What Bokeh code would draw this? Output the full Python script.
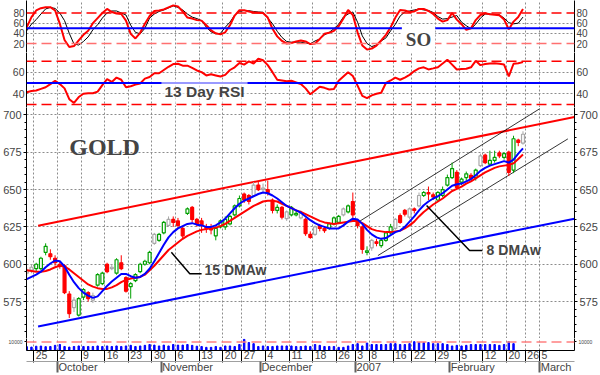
from bokeh.plotting import figure
from bokeh.models import Range1d, FixedTicker, LinearAxis, Label, Span, Grid
from bokeh.layouts import column
from bokeh.embed import file_html
from bokeh.resources import INLINE

SANS = "Liberation Sans"
SERIF = "Liberation Serif"

# trading-day index (0 = Mon 25 Sep 2006)
days = list(range(-2, 104))

opens = [594, 596, 597, 597, 608, 607, 604, 600, 599, 580,
         571, 566, 578, 581, 576, 586, 587, 600, 597, 594,
         601, 591, 585, 589, 595, 600, 601, 614, 616, 621,
         626, 630, 629, 624, 634, 638, 630, 629, 625, 624,
         619, 625, 625, 627, 633, 639, 647, 646, 646, 653,
         650, 650, 643, 636, 638, 630.5, 633, 633, 631, 630,
         620, 620, 626, 624, 624, 627, 628, 633, 635, 642,
         628, 625, 608, 611, 615, 612.5, 616, 621, 624, 632.5,
         636, 631.5, 637, 639, 646, 648, 646.5, 643, 646, 653,
         658, 661.5, 655, 658, 659.5, 658, 666, 673, 667, 669.5,
         674.5, 671.5, 675, 663, 683, 681]
highs = [598, 600, 601, 605, 614, 610, 606, 602, 600, 582,
         578, 578, 584, 582, 581, 594, 595, 601, 600, 604,
         606, 592, 588, 594, 601, 603, 609, 621, 621, 629,
         632, 632, 631, 625, 638, 639, 631, 631, 627, 627,
         625, 630, 632, 633, 640, 646, 648, 647, 655, 655,
         654, 656, 644, 640, 639, 636, 639, 636, 636, 631,
         622, 626, 627, 625, 628, 632, 633, 638, 640, 648,
         630, 626, 612, 617, 617, 617, 622, 627, 631, 634,
         637, 638, 638, 648, 649, 652, 648, 649, 652, 660,
         668, 663, 658, 662, 661, 664, 674, 674, 676, 676,
         676, 675, 676, 686, 684, 689]
lows = [592, 594, 595, 596, 606, 603, 599, 597, 580, 564,
        568, 565, 576, 575, 574, 585, 586, 594, 596, 593,
        596, 581, 577, 588, 594, 599, 600, 613, 615, 620,
        625, 625, 624, 617, 633, 628, 625, 621, 621, 620,
        616, 624, 623, 626, 632, 638, 641, 640, 645, 649,
        648, 646, 634, 634, 630, 629, 632, 632, 630, 619,
        617, 619, 622, 621, 623, 626, 627, 632, 634, 631,
        624, 607, 606, 609, 612, 611, 615, 620, 623, 627,
        632, 630, 634, 638, 645, 643, 643, 642, 645, 652,
        657, 650, 653, 656, 656, 656, 665, 667, 666, 668,
        671, 670, 659, 661, 679, 680]
closes = [596, 598, 600, 604, 612, 605, 601, 599, 581, 567,
          576, 577, 583, 577, 579, 593, 594, 595, 598, 603,
          597, 582, 587, 593, 600, 602, 608, 620, 620, 628,
          630, 628, 626, 619, 637, 630, 627, 626, 624, 623,
          624, 629, 630, 632, 639, 644, 643, 642, 653, 650,
          651, 648, 636, 638, 631.5, 635, 638, 634, 634, 620.5,
          618, 625, 624, 622.5, 627, 631, 632, 637, 639, 633,
          626, 610, 609, 616, 614, 616, 621, 625, 630, 628,
          633.5, 637, 636, 646, 648, 647, 645, 648, 650, 658,
          664, 651.5, 657, 660.5, 657.5, 663, 672.5, 668, 669.5, 671.5,
          672.5, 674, 661.5, 684, 681.5, 687]
candle_kind = ["k", "k", "g", "g", "g", "r", "r", "r", "r", "r",
               "k", "g", "g", "r", "k", "g", "g", "r", "k", "g",
               "r", "r", "g", "g", "g", "g", "g", "k", "g", "g",
               "k", "r", "r", "r", "g", "r", "r", "r", "r", "r",
               "g", "g", "g", "g", "g", "g", "r", "r", "k", "r",
               "k", "r", "r", "g", "r", "k", "g", "g", "k", "r",
               "r", "k", "r", "r", "g", "g", "g", "k", "g", "r",
               "r", "r", "g", "k", "r", "g", "g", "g", "k", "r",
               "r", "k", "r", "k", "g", "r", "r", "g", "g", "g",
               "g", "r", "g", "g", "r", "g", "k", "r", "g", "g",
               "r", "g", "r", "g", "r", "k"]
ma8 = [590, 591.5, 593, 595, 598, 600.5, 602.5, 602, 598.5, 593,
       588, 584, 581, 579, 577.5, 578.5, 582, 585.5, 588.5, 591,
       593.5, 593.5, 592, 591, 591.5, 593.5, 597, 602, 607.5, 613,
       618, 621.5, 624, 625.5, 627, 627.5, 626.5, 626, 625, 625,
       626, 628, 630.5, 634, 637.5, 640.5, 642.5, 644, 645.5, 647,
       648, 647.5, 646, 644, 641.5, 639, 637.5, 636, 634.5, 632,
       629.5, 627.5, 626, 625, 624, 624, 624, 626, 628.5, 630.5,
       630, 627, 623, 620, 618, 617, 617.5, 619.5, 621.5, 622.5,
       625, 628.5, 632, 636, 639.5, 642, 644, 645.5, 647.5, 650,
       652.5, 653.5, 654, 655.5, 657, 659.5, 662.5, 664.5, 666, 667,
       668, 669, 668, 670, 674, 677.5]
ma15 = [596, 595.5, 595, 595, 595.5, 596.5, 598, 599, 598.5, 596.5,
        594, 591.5, 589, 586.5, 585, 584, 583.5, 583.5, 584.5, 586,
        588, 589.5, 590.5, 591, 591.5, 593, 596, 599, 602.5, 606,
        609.5, 612, 614.5, 617, 619, 620.5, 622, 623, 623.5, 624,
        624.5, 625.5, 627, 629, 631, 633, 635, 637, 639, 640.5,
        642, 642.5, 642.5, 642, 640.5, 639, 637.5, 636, 635, 633.5,
        632, 630.5, 629, 628, 627.5, 627, 627.5, 628, 628.5, 629,
        629, 627.5, 625.5, 623.5, 622.5, 622, 621.5, 621.5, 622, 622.5,
        624, 626, 628.5, 632, 635, 637.5, 640, 642, 644, 646.5,
        649, 650.5, 652, 654, 655.5, 657.5, 659.5, 661.5, 663, 664.5,
        665.5, 666, 666.5, 667.5, 670.5, 673.5]
so_k = [52, 72, 85, 89.5, 91.5, 91.5, 85, 59, 27, 13,
        15, 26, 37, 45, 60, 70, 80, 88, 82, 79,
        78, 65, 39, 30, 41, 59, 74, 84, 85, 87,
        91, 95, 93, 83, 71, 69, 66, 65, 56, 46,
        40, 38, 42, 56, 75, 85.5, 85.5, 83, 81, 80.5,
        80, 71, 49, 34, 25, 20, 21, 24, 26, 24,
        19, 20, 29, 39, 41, 45, 54, 69, 86, 76,
        42, 16, 8, 10, 16, 26, 37, 52, 71, 86,
        85, 82, 83, 88, 88, 84, 78, 69, 63, 66,
        80, 67, 58, 47, 50, 66, 76, 79.5, 77.5, 76.5,
        75.5, 67, 48, 63, 72, 88]
so_d = [45, 58, 67, 78, 88, 91, 89, 80, 65, 40,
        19, 17, 24, 33, 47, 57, 70, 80, 84, 84,
        80, 76, 56, 42, 39, 50, 70, 78, 83, 86,
        90, 94, 91, 86, 78, 72, 69, 65, 52, 43,
        39, 40, 52, 62, 76, 83, 85, 84.5, 83, 82,
        81.5, 70, 59, 44, 32, 24, 22.5, 22.5, 22.5, 21,
        19.5, 25, 29, 37, 42, 49, 58, 72, 78, 82,
        62, 35, 20, 14, 17, 25, 31, 45, 58, 74,
        82, 84, 86, 88, 86, 85, 81, 73, 68, 69,
        72, 75, 62, 55, 49, 58, 70, 78, 78, 77,
        76.5, 70, 61, 58.7, 60, 72]
rsi13 = [41.5, 42.5, 43, 44.5, 46, 49, 52, 49, 45, 35,
         31.5, 37, 40, 40.5, 40.5, 42, 48, 53.5, 51, 55,
         53, 46, 47, 48.5, 49.5, 54, 55.5, 59, 59, 62,
         65, 67.5, 67.8, 66, 66, 64, 61.6, 60, 57, 58,
         57, 56, 57.5, 62, 64.5, 68.5, 67, 70, 68, 72.4,
         71, 66.5, 60, 53, 52.3, 51.5, 52, 50.5, 49, 45,
         39.5, 43, 46.5, 45.5, 44, 44.5, 52, 56, 60, 56.5,
         47.5, 38, 36, 38.5, 40, 41, 50, 52.3, 55, 53,
         55, 57.5, 61, 63.5, 64.5, 62.5, 63.5, 64.6, 68, 71.5,
         67, 62.5, 63, 63.1, 64.5, 70.5, 66.5, 67.5, 68, 68.3,
         67.7, 67, 56, 67.8, 68.3, 69.3]
volume = [45, 40, 50, 52, 45, 47, 60, 70, 47, 40,
          47, 53, 47, 47, 47, 53, 47, 53, 47, 53,
          47, 53, 60, 47, 53, 60, 70, 63, 53, 63,
          53, 70, 63, 63, 70, 60, 50, 47, 37, 37,
          47, 37, 53, 53, 47, 70, 130, 93, 80, 47,
          53, 47, 47, 53, 53, 53, 53, 47, 47, 53,
          47, 70, 60, 47, 47, 47, 37, 37, 53, 70,
          80, 53, 87, 70, 70, 70, 70, 80, 80, 70,
          70, 80, 103, 93, 93, 93, 80, 80, 80, 70,
          53, 60, 53, 60, 70, 70, 70, 70, 70, 70,
          60, 70, 103, 80, float("nan"), float("nan")]

# x-axis: first trading day of each week / month (index) and their labels
week_idx = [0, 5, 10, 15, 20, 25, 30, 35, 40, 44, 49, 54, 59, 64, 68, 71,
            76, 80, 85, 90, 95, 100, 104, 107]
week_labels = ["25", "2", "9", "16", "23", "30", "6", "13", "20", "27", "4",
               "11", "18", "26", "3", "8", "16", "22", "29", "5", "12", "20",
               "26", "5"]
month_idx = [5, 27, 48, 68, 88, 107]
month_labels = ["October", "November", "December", "2007", "February", "March"]

so_ticks = [20, 40, 60, 80]
rsi_ticks = [40, 60]
price_ticks = [575, 600, 625, 650, 675, 700]

# hand-drawn trend lines (day index, price)
upper_trend_x, upper_trend_y = [0.4, 113.9], [625.8, 698.5]
lower_trend_x, lower_trend_y = [0.4, 113.9], [558.4, 630.5]
chan_top_x, chan_top_y = [67.8, 106.5], [627.5, 704.0]
chan_bot_x, chan_bot_y = [72.3, 112.5], [605.8, 683.9]
ptr15_x, ptr15_y = [28.6, 32.5, 35.0], [608.0, 593.6, 593.6]
ptr8_x, ptr8_y = [82.6, 91.7, 94.4], [639.3, 609.2, 609.2]

# ---------------------------------------------------------------- styling
RED = "#ff0000"
BLUE = "#0000ff"
GRID = "#8c8c8c"
xr = Range1d(-2.05, 113.9)
PX = (113.9 + 2.05) / 550.0
seps = [i - 0.5 for i in week_idx]


def base_fig(h, yr):
    p = figure(width=600, height=h, x_range=xr, y_range=yr,
               output_backend="svg", toolbar_location=None,
               x_axis_location=None, y_axis_location=None,
               min_border_left=25, min_border_right=25,
               min_border_top=0, min_border_bottom=0)
    p.outline_line_color = None
    p.xgrid.grid_line_color = None
    p.ygrid.grid_line_color = None
    p.add_layout(Grid(dimension=0, ticker=FixedTicker(ticks=seps),
                      grid_line_color=GRID, grid_line_dash="2 2"))
    return p


def y_axes(p, ticks, minor, size, overrides=None, tick_out=3):
    for side in ("left", "right"):
        ax = LinearAxis(ticker=FixedTicker(ticks=ticks, minor_ticks=minor),
                        major_label_text_font=SANS,
                        major_label_text_font_size=size,
                        major_tick_out=tick_out, major_tick_in=0,
                        minor_tick_out=2, minor_tick_in=0,
                        major_label_standoff=2, axis_line_color="black",
                        major_tick_line_color="black",
                        minor_tick_line_color="black")
        if overrides:
            ax.major_label_overrides = overrides
        p.add_layout(ax, side)


def hgrid(p, ticks):
    p.add_layout(Grid(dimension=1, ticker=FixedTicker(ticks=ticks),
                      grid_line_color=GRID, grid_line_dash="2 2"))


# ---- stochastic oscillator panel
so = base_fig(52, Range1d(2.3, 104.6))
hgrid(so, [40, 60])
so.add_layout(Span(location=80, dimension="width", line_color=RED,
                   line_dash="10 5", line_width=1.5))
so.add_layout(Span(location=20, dimension="width", line_color="#ff7070",
                   line_dash="10 5", line_width=1.5))
so.add_layout(Span(location=50, dimension="width", line_color=BLUE, line_width=2))
so.line(days, so_d, line_color="black", line_width=1)
so.line(days, so_k, line_color=RED, line_width=2)
so.add_layout(Label(x=80.9, y=27.5, text="SO", text_font=SERIF,
                    text_font_style="bold", text_font_size="19px",
                    text_align="center", text_baseline="middle",
                    background_fill_color="white", padding=4))
y_axes(so, so_ticks, [], "10px", tick_out=0)

# ---- RSI panel
rs = base_fig(55, Range1d(27.3, 78.2))
hgrid(rs, [40, 60])
for lv in (70, 30):
    rs.add_layout(Span(location=lv, dimension="width", line_color=RED,
                       line_dash="10 5", line_width=1.5))
rs.add_layout(Span(location=50, dimension="width", line_color=BLUE, line_width=2))
rs.line(days, rsi13, line_color=RED, line_width=2)
rs.add_layout(Label(x=26.5, y=42.0, text="13 Day RSI", text_font=SANS,
                    text_font_style="bold", text_font_size="15.5px",
                    text_align="left", text_baseline="middle",
                    background_fill_color="white", background_fill_alpha=0.6,
                    padding=3))
y_axes(rs, rsi_ticks, [], "10.5px", tick_out=0)

# ---- price panel
pr = base_fig(231, Range1d(550.3, 704.9))
hgrid(pr, price_ticks)
pr.line(upper_trend_x, upper_trend_y, line_color=RED, line_width=2)
pr.line(lower_trend_x, lower_trend_y, line_color=BLUE, line_width=2)
pr.line(chan_top_x, chan_top_y, line_color="black", line_width=0.8)
pr.line(chan_bot_x, chan_bot_y, line_color="black", line_width=0.8)

kind_line = {"r": RED, "g": "#00a000", "k": "#a8a8a8"}
kind_fill = {"r": RED, "g": "white", "k": "white"}
lc = [kind_line[k] for k in candle_kind]
fc = [kind_fill[k] for k in candle_kind]
tops = [max(o, c) for o, c in zip(opens, closes)]
bots = [min(o, c) for o, c in zip(opens, closes)]
pr.segment(x0=days, y0=lows, x1=days, y1=highs, line_color=lc, line_width=1)
pr.vbar(x=days, width=0.62, top=tops, bottom=bots, fill_color=fc,
        line_color=lc, line_width=1.2)
pr.line(days, ma15, line_color=RED, line_width=2)
pr.line(days, ma8, line_color=BLUE, line_width=2)
pr.line(ptr15_x, ptr15_y, line_color="black", line_width=1.5)
pr.line(ptr8_x, ptr8_y, line_color="black", line_width=1.5)
pr.add_layout(Label(x=35.6, y=595.9, text="15 DMAw", text_font=SANS,
                    text_font_style="bold", text_font_size="14px",
                    text_align="left", text_baseline="middle"))
pr.add_layout(Label(x=95.3, y=609.8, text="8 DMAw", text_font=SANS,
                    text_font_style="bold", text_font_size="14px",
                    text_align="left", text_baseline="middle"))
pr.add_layout(Label(x=7.0, y=678.4, text="GOLD", text_font=SERIF,
                    text_font_style="bold", text_font_size="24px",
                    text_align="left", text_baseline="middle"))
y_axes(pr, price_ticks, list(range(555, 705, 5)), "11px")

# ---- volume panel with the date axes
vo = base_fig(37, Range1d(0, 140))
vo.add_layout(Span(location=100, dimension="width", line_color="#ff8080",
                   line_dash="10 5", line_width=1.5))
vo.vbar(x=days, width=0.3, top=volume, bottom=0, color=BLUE)
y_axes(vo, [100], [], "5px", overrides={100: "10000"}, tick_out=2)

CW = {"0": 556, "1": 556, "2": 556, "3": 556, "4": 556, "5": 556, "6": 556,
      "7": 556, "8": 556, "9": 556, "O": 778, "c": 500, "t": 278, "o": 556,
      "b": 556, "e": 556, "r": 333, "N": 722, "v": 500, "m": 833, "D": 722,
      "F": 611, "u": 556, "a": 556, "y": 500, "M": 833, "h": 556}


def tw(s, size):
    return sum(CW.get(ch, 556) for ch in s) * size / 1000.0


day_centers = [round(i - 0.5 + (2.0 + tw(l, 10.5) / 2) * PX, 4)
               for i, l in zip(week_idx, week_labels)]
mon_centers = [round(i - 0.5 + (2.0 + tw(l, 10.5) / 2) * PX, 4)
               for i, l in zip(month_idx, month_labels)]

day_axis = LinearAxis(
    ticker=FixedTicker(ticks=day_centers, minor_ticks=seps),
    major_label_overrides=dict(zip(day_centers, week_labels)),
    major_tick_out=0, major_tick_in=0, major_tick_line_color=None,
    minor_tick_out=12, minor_tick_in=0, minor_tick_line_color="black",
    major_label_standoff=-12, major_label_text_font=SANS,
    major_label_text_font_size="10.5px", axis_line_color="black")
vo.add_layout(day_axis, "below")
mon_axis = LinearAxis(
    ticker=FixedTicker(ticks=mon_centers, minor_ticks=[i - 0.5 for i in month_idx]),
    major_label_overrides=dict(zip(mon_centers, month_labels)),
    major_tick_out=0, major_tick_in=0, major_tick_line_color=None,
    minor_tick_out=11, minor_tick_in=0, minor_tick_line_color="#606060",
    minor_tick_line_width=2,
    major_label_standoff=-12, major_label_text_font=SANS,
    major_label_text_font_size="11px", axis_line_color="#a0a0a0")
vo.add_layout(mon_axis, "below")

layout = column(so, rs, pr, vo, spacing=0)
open("out.html", "w").write(file_html(layout, INLINE))
